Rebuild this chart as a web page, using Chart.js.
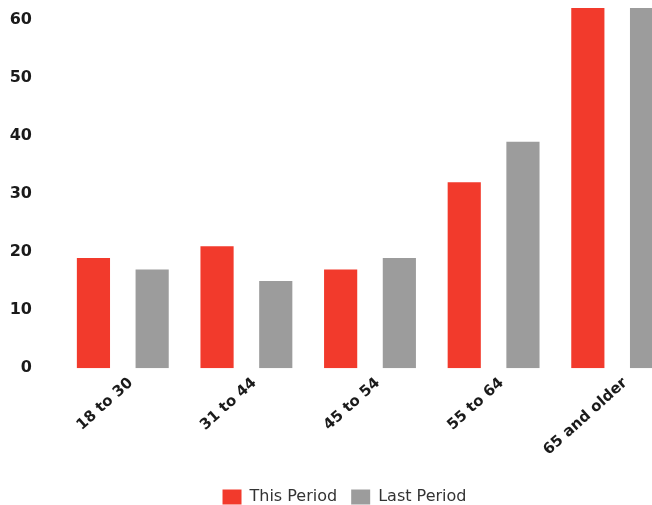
<!DOCTYPE html>
<html>
<head>
<meta charset="utf-8">
<script src="https://cdn.jsdelivr.net/npm/chart.js@4/dist/chart.umd.min.js"></script>
<style>
  html, body { margin: 0; padding: 0; background: #fff; overflow: hidden; }
  #wrap { width: 652px; height: 505px; overflow: hidden; }
</style>
</head>
<body>
<div id="wrap"><canvas id="chart" width="690" height="515"></canvas></div>
<script>
// age groups and the two periods
const ageGroups = ['18 to 30', '31 to 44', '45 to 54', '55 to 64', '65 and older'];
const thisPeriod = [19, 21, 17, 32, 62];
const lastPeriod = [17, 15, 19, 39, 62];
const yTicks = [0, 10, 20, 30, 40, 50, 60];

const RED = '#f23a2c';
const GREY = '#9c9c9c';
const FONT = "'DejaVu Sans', Verdana, sans-serif";

new Chart(document.getElementById('chart'), {
  type: 'bar',
  data: {
    labels: ageGroups,
    datasets: [
      { label: 'This Period', data: thisPeriod, backgroundColor: RED },
      { label: 'Last Period', data: lastPeriod, backgroundColor: GREY },
    ],
  },
  options: {
    responsive: false,
    animation: false,
    datasets: { bar: { categoryPercentage: 0.95, barPercentage: 0.565 } },
    layout: { padding: { top: 8, left: 10, right: 11, bottom: 0 } },
    plugins: {
      tooltip: { enabled: false },
      legend: {
        position: 'bottom',
        labels: {
          color: '#333',
          boxWidth: 19,
          boxHeight: 15,
          padding: 14,
          font: { family: FONT, size: 16 },
        },
      },
    },
    scales: {
      x: {
        grid: { display: false, drawTicks: false },
        border: { display: false },
        afterFit: (s) => {
          s.paddingLeft = 0;
          s.paddingRight = 0;
          s.height += 10;
        },
        ticks: {
          color: '#1a1a1a',
          minRotation: 42,
          maxRotation: 42,
          padding: 6,
          labelOffset: 8,
          font: { family: FONT, size: 15, weight: 'bold' },
        },
      },
      y: {
        min: 0,
        max: 62,
        grid: { display: false, drawTicks: false },
        border: { display: false },
        afterBuildTicks: (scale) => {
          scale.ticks = yTicks.map(v => ({ value: v }));
        },
        afterFit: (s) => {
          s.paddingTop = 0;
          s.paddingBottom = 0;
          s.width = 51;
        },
        ticks: {
          color: '#1a1a1a',
          padding: 29,
          font: { family: FONT, size: 16, weight: 'bold' },
        },
      },
    },
  },
});
</script>
</body>
</html>
